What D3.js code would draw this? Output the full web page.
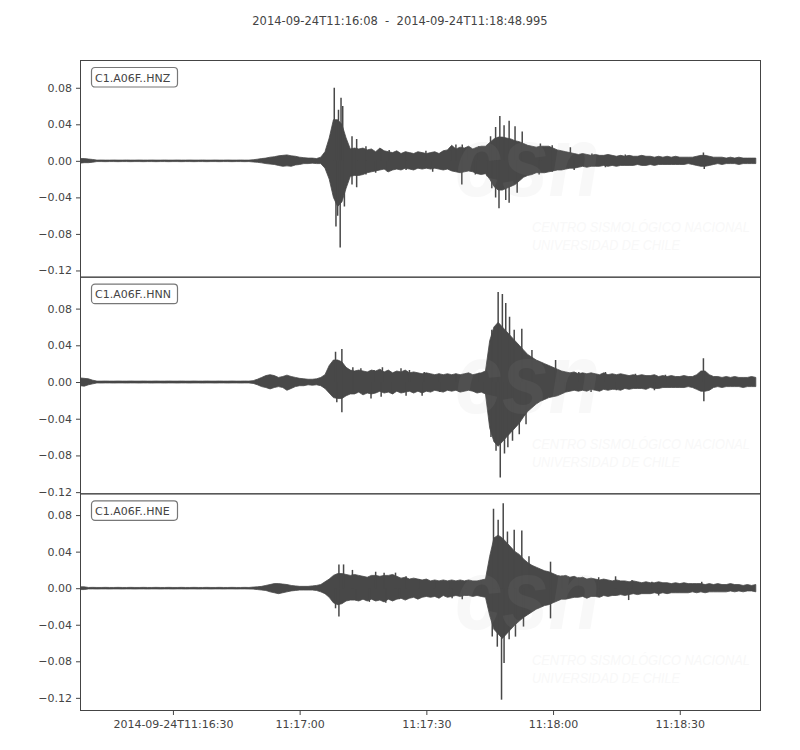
<!DOCTYPE html>
<html>
<head>
<meta charset="utf-8">
<script src="https://cdn.jsdelivr.net/npm/d3@7"></script>
<style>
  body { margin: 0; background: #fff; }
  svg { display: block; font-family: "DejaVu Sans", sans-serif; }
</style>
</head>
<body>
<svg width="800" height="750"></svg>
<script>
// trace start; envelope samples are 1 s apart from it
const startTime = "2014-09-24T11:16:08.000Z";
const endTime = "2014-09-24T11:18:48.995Z";
const titleText = "2014-09-24T11:16:08  -  2014-09-24T11:18:48.995";
const channels = ["C1.A06F..HNZ", "C1.A06F..HNN", "C1.A06F..HNE"];

// per-panel y limits (equal scale, shifted centres)
const yLimits = [[-0.1268, 0.1104], [-0.1213, 0.1148], [-0.1333, 0.1038]];
const yTicks = [0.08, 0.04, 0.00, -0.04, -0.08, -0.12];
const xTickTimes = ["2014-09-24T11:16:30Z", "2014-09-24T11:17:00Z", "2014-09-24T11:17:30Z", "2014-09-24T11:18:00Z", "2014-09-24T11:18:30Z"];
const xTickLabels = ["2014-09-24T11:16:30", "11:17:00", "11:17:30", "11:18:00", "11:18:30"];

// body of the trace: max / min per second
const hnzHi = [.0025,.0025,.002,.0015,
  .0008,.0009,.0008,.0008,.0009,.0008,.0008,.0009,.0008,.0008,
  .0009,.0008,.0008,.0009,.0008,.0008,.0009,.0008,.0008,.0009,
  .0008,.0008,.0009,.0008,.0008,.0009,.0008,.0008,.0009,.0008,
  .0008,.0009,.0008,.0008,.0009,.0008,.0008,
  .0012,.0018,.0025,.003,.004,.0045,.0055,.006,.0065,.0055,.005,.004,.0035,.003,.003,.0025,.004,
  .010,.025,.045,.045,.040,.025,.013,.014,.013,.014,.012,.013,
  .010,.014,.011,.010,.009,.011,.008,.010,.009,.008,.010,.009,.008,.009,.010,.008,.011,.012,.017,.013,
  .015,.014,.016,.013,.015,.016,.016,.020,.024,.026,.026,.025,.024,.022,.021,.019,.017,.016,.015,.016,
  .016,.016,.014,.012,.011,.010,.009,.008,.007,.008,.007,.006,.007,.006,.006,.007,.006,.005,.006,.005,
  .006,.005,.005,.006,.005,.005,.004,.005,.004,.005,.004,.005,.004,.004,.004,.004,.005,.006,.006,.005,
  .004,.004,.004,.003,.004,.003,.004,.003,.003,.003,.003];
const hnzLo = [-.0025,-.002,-.002,-.0015,
  -.0008,-.0008,-.0009,-.0008,-.0008,-.0009,-.0008,-.0008,-.0009,-.0008,
  -.0008,-.0009,-.0008,-.0008,-.0009,-.0008,-.0008,-.0009,-.0008,-.0008,
  -.0009,-.0008,-.0008,-.0009,-.0008,-.0008,-.0009,-.0008,-.0008,-.0009,
  -.0008,-.0008,-.0009,-.0008,-.0008,-.0009,-.0008,
  -.0012,-.0016,-.0022,-.003,-.0035,-.004,-.005,-.006,-.0055,-.006,-.0045,-.004,-.003,-.003,-.0025,-.003,-.003,
  -.008,-.020,-.040,-.050,-.045,-.030,-.017,-.016,-.016,-.015,-.013,-.012,
  -.011,-.010,-.009,-.012,-.010,-.009,-.010,-.008,-.009,-.010,-.008,-.009,-.008,-.009,-.008,-.009,-.010,-.009,-.011,-.012,
  -.013,-.012,-.011,-.012,-.014,-.015,-.014,-.020,-.028,-.032,-.032,-.030,-.028,-.026,-.022,-.018,-.016,-.015,-.013,-.013,
  -.013,-.012,-.011,-.010,-.010,-.009,-.008,-.008,-.007,-.006,-.007,-.006,-.006,-.006,-.005,-.006,-.005,-.006,-.005,-.005,
  -.005,-.005,-.004,-.005,-.005,-.004,-.005,-.004,-.004,-.004,-.004,-.004,-.004,-.004,-.003,-.004,-.005,-.006,-.006,-.005,
  -.004,-.003,-.004,-.003,-.003,-.003,-.004,-.003,-.003,-.003,-.003];
// single peaks standing out of the body: [seconds after start, value]
const hnzSpikes = [[60.2,.080],[60.6,-.072],[61.0,-.060],[61.2,.056],[61.6,-.095],[61.8,.069],[62.2,.060],[62.6,-.050],
  [64.4,.027],[64.4,-.026],[65.5,.024],[65.5,-.029],[67.7,.016],[67.7,-.015],[70,-.013],[71.3,.013],[72.8,-.012],
  [73.2,.012],[77.2,.010],[77.2,-.010],[81.9,.011],[83.5,-.012],[87.8,.011],[89,.018],[90.5,.018],[90.4,-.026],
  [92,.015],[93.6,-.015],[94.4,.016],[96.4,-.017],
  [97.2,.027],[97.5,-.030],[98.4,.037],[98.4,-.040],[99.4,.049],[99.2,-.052],[100.4,.039],[100.8,-.043],
  [101.6,.044],[101.6,-.046],[103.0,.038],[103.5,-.035],[104.7,.032],[108.7,-.015],[109,.019],[111.8,.017],
  [111.8,-.012],[116.1,.015],[117,-.010],[121.2,.008],[124.4,-.007],[129.1,.007],[147.6,.009],[147.8,-.009]];

const hnnHi = [.0045,.004,.0035,.002,
  .001,.001,.0011,.001,.001,.0011,.001,.001,.0011,.001,
  .001,.0011,.001,.001,.0011,.001,.001,.0011,.001,.001,
  .0011,.001,.001,.0011,.001,.001,.0011,.001,.001,.0011,
  .001,.001,.0011,.001,.001,.0011,.001,
  .0015,.003,.005,.007,.008,.007,.005,.006,.0075,.006,.005,.004,.0035,.003,.003,.0035,.005,
  .008,.018,.024,.024,.022,.016,.013,.012,.013,.012,.011,.013,
  .012,.014,.011,.013,.010,.012,.011,.013,.010,.011,.010,.009,.010,.009,.008,.009,.008,.009,.008,.009,
  .008,.009,.010,.008,.009,.010,.012,.045,.060,.065,.060,.055,.050,.045,.040,.035,.030,.027,.024,.022,
  .020,.018,.016,.014,.012,.011,.010,.011,.009,.010,.009,.010,.009,.008,.010,.008,.009,.008,.009,.008,
  .007,.008,.007,.008,.007,.007,.008,.006,.007,.006,.007,.006,.006,.007,.006,.006,.008,.012,.012,.008,
  .006,.006,.005,.006,.005,.006,.005,.005,.005,.006,.005];
const hnnLo = [-.004,-.0045,-.003,-.002,
  -.001,-.0011,-.001,-.001,-.0011,-.001,-.001,-.0011,-.001,-.001,
  -.0011,-.001,-.001,-.0011,-.001,-.001,-.0011,-.001,-.001,-.0011,
  -.001,-.001,-.0011,-.001,-.001,-.0011,-.001,-.001,-.0011,-.001,
  -.001,-.0011,-.001,-.001,-.0011,-.001,-.001,
  -.0015,-.003,-.005,-.006,-.0075,-.006,-.005,-.006,-.009,-.007,-.005,-.004,-.004,-.003,-.0035,-.003,-.004,
  -.007,-.012,-.017,-.018,-.018,-.015,-.013,-.013,-.011,-.014,-.012,-.013,
  -.012,-.010,-.012,-.011,-.013,-.010,-.012,-.011,-.010,-.012,-.010,-.012,-.010,-.011,-.009,-.010,-.011,-.009,-.010,-.009,
  -.011,-.010,-.009,-.010,-.012,-.011,-.013,-.050,-.065,-.070,-.065,-.060,-.055,-.050,-.045,-.038,-.032,-.028,-.024,-.021,
  -.019,-.017,-.016,-.015,-.013,-.011,-.010,-.009,-.010,-.009,-.010,-.008,-.009,-.010,-.008,-.009,-.008,-.008,-.009,-.007,
  -.008,-.007,-.007,-.007,-.008,-.006,-.007,-.007,-.006,-.006,-.006,-.006,-.006,-.006,-.005,-.006,-.008,-.010,-.010,-.009,
  -.006,-.005,-.006,-.005,-.005,-.005,-.005,-.006,-.005,-.005,-.005];
const hnnSpikes = [[60.5,.033],[60.8,-.022],[62.0,.036],[62.0,-.033],[64.6,.016],[64.6,-.011],[66.5,.015],
  [68.9,-.018],[69.6,.013],[71.6,.016],[71.3,-.016],[74,-.013],[76,.015],[77.2,-.015],[78,.013],[81,-.015],
  [81.5,.011],[85,.009],[85.2,-.011],[89,.009],[89.8,-.011],[94.5,.010],[95.7,-.011],
  [97.3,-.060],[97.5,.057],[98.5,-.075],[99.0,.098],[99.5,-.104],[100.0,.096],[100.5,-.078],[100.8,.086],
  [101.3,-.071],[101.7,.071],[102.4,-.064],[102.8,.057],[104.0,-.057],[104.6,.058],[105.6,-.046],
  [107.0,.035],[112.6,.024],[113.4,.013],[115,-.011],[118.1,.011],[121,-.011],[124.4,.011],[127,-.009],
  [131.5,.009],[136,-.009],[138.6,.008],[147.6,.026],[147.7,-.021]];

const hneHi = [.0015,.0015,
  .0008,.0009,.0008,.0008,.0009,.0008,.0008,.0009,.0008,.0008,
  .0009,.0008,.0008,.0009,.0008,.0008,.0009,.0008,.0008,.0009,
  .0008,.0008,.0009,.0008,.0008,.0009,.0008,.0008,.0009,.0008,
  .0008,.0009,.0008,.0008,.0009,.0008,.0008,.0009,.0008,
  .0012,.0015,.002,.003,.004,.005,.005,.0045,.004,.003,.0025,.002,.002,.002,.0025,.003,.004,
  .007,.010,.014,.016,.016,.015,.014,.015,.014,.013,.012,.014,
  .014,.013,.014,.014,.015,.013,.011,.012,.010,.011,.010,.009,.010,.008,.009,.008,.009,.008,.009,.008,
  .009,.008,.009,.008,.008,.009,.010,.035,.055,.058,.055,.050,.045,.040,.037,.032,.028,.025,.023,.021,
  .019,.018,.016,.014,.013,.014,.012,.013,.011,.012,.010,.011,.010,.009,.010,.009,.008,.009,.008,.008,
  .007,.008,.007,.006,.007,.006,.006,.007,.006,.006,.005,.006,.005,.006,.005,.005,.005,.005,.004,.005,
  .004,.005,.004,.004,.005,.004,.004,.003,.004,.003,.004];
const hneLo = [-.0015,-.0015,
  -.0008,-.0008,-.0009,-.0008,-.0008,-.0009,-.0008,-.0008,-.0009,-.0008,
  -.0008,-.0009,-.0008,-.0008,-.0009,-.0008,-.0008,-.0009,-.0008,-.0008,
  -.0009,-.0008,-.0008,-.0009,-.0008,-.0008,-.0009,-.0008,-.0008,-.0009,
  -.0008,-.0008,-.0009,-.0008,-.0008,-.0009,-.0008,-.0008,-.0009,
  -.001,-.0015,-.002,-.0025,-.004,-.005,-.006,-.005,-.004,-.003,-.0025,-.002,-.002,-.002,-.002,-.0025,-.004,
  -.006,-.010,-.016,-.018,-.017,-.014,-.013,-.013,-.014,-.012,-.014,-.012,
  -.014,-.013,-.015,-.012,-.014,-.012,-.011,-.013,-.011,-.010,-.012,-.010,-.009,-.010,-.009,-.011,-.008,-.010,-.009,-.008,
  -.009,-.008,-.008,-.009,-.008,-.009,-.010,-.030,-.045,-.050,-.055,-.050,-.045,-.040,-.036,-.032,-.029,-.026,-.023,-.021,
  -.019,-.018,-.016,-.014,-.012,-.012,-.011,-.010,-.010,-.009,-.011,-.009,-.009,-.010,-.008,-.009,-.008,-.008,-.007,-.008,
  -.007,-.006,-.007,-.006,-.006,-.006,-.005,-.006,-.005,-.006,-.005,-.005,-.005,-.005,-.005,-.004,-.005,-.004,-.005,-.004,
  -.004,-.004,-.004,-.004,-.003,-.004,-.003,-.004,-.003,-.003,-.004];
const hneSpikes = [[60.5,-.022],[61.3,.026],[61.3,-.031],[62.4,.026],[64.5,.020],[65.4,-.013],[68.5,-.015],[70,.018],
  [72,.017],[72.4,-.016],[74.7,.017],[75.6,-.012],[77.2,.013],[80.3,.010],[83.9,.008],[87.4,.008],[88.1,-.011],
  [90.5,-.012],[91.3,.008],[94.9,.009],
  [97.6,-.053],[97.9,.087],[98.8,-.064],[99.0,.075],[99.8,-.122],[100.2,.093],[100.4,-.082],[101.2,.062],
  [101.6,-.056],[102.8,.064],[103.1,-.053],[104.6,.063],[105.0,-.042],[106.3,.035],[111.4,.029],[111.4,-.033],
  [114.1,.014],[115.7,-.009],[118.1,.012],[122.8,.012],[122.8,-.009],[126.8,.013],[129.9,-.013],[130.7,.009],
  [135.4,.007],[137,-.008],[147.2,.007]];

const traces = [[hnzHi, hnzLo, hnzSpikes], [hnnHi, hnnLo, hnnSpikes], [hneHi, hneLo, hneSpikes]];

const svg = d3.select("svg");
const plotLeft = 80, plotRight = 760, plotTop = 60, plotBottom = 710;
const panelH = (plotBottom - plotTop) / 3;
const ink = "#444444";
const waveColor = "#484848";

const t0 = new Date(startTime);
let xScale = d3.scaleUtc()
    .domain([t0, new Date(endTime)])
    .range([plotLeft, plotRight]);

const secToDate = s => new Date(t0.getTime() + s * 1000);

svg.append("text")
    .attr("x", 400)
    .attr("y", 25)
    .attr("text-anchor", "middle")
    .attr("font-size", "11.5px")
    .attr("fill", ink)
    .style("white-space", "pre")
    .text(titleText);

channels.forEach((name, i) => {
    const y0 = plotTop + i * panelH;
    const y1 = y0 + panelH;
    let yScale = d3.scaleLinear()
        .domain(yLimits[i])
        .range([y1, y0]);

    const g = svg.append("g");

    g.append("clipPath")
        .attr("id", "clip" + i)
      .append("rect")
        .attr("x", plotLeft).attr("y", y0)
        .attr("width", plotRight - plotLeft).attr("height", panelH);

    const [hi, lo, spikes] = traces[i];
    const rows = hi.map((v, k) => ({ t: secToDate(k), hi: v, lo: lo[k] }));

    const area = d3.area()
        .x(d => xScale(d.t))
        .y0(d => yScale(d.lo))
        .y1(d => yScale(d.hi));

    const wave = g.append("g").attr("clip-path", `url(#clip${i})`);

    wave.append("path")
        .datum(rows)
        .attr("d", area)
        .attr("fill", waveColor)
        .attr("stroke", waveColor)
        .attr("stroke-width", 0.8)
        .attr("stroke-linejoin", "round");

    wave.selectAll("line.spike")
        .data(spikes)
        .enter()
        .append("line")
        .attr("class", "spike")
        .attr("x1", d => xScale(secToDate(d[0])))
        .attr("x2", d => xScale(secToDate(d[0])))
        .attr("y1", yScale(0))
        .attr("y2", d => yScale(d[1]))
        .attr("stroke", waveColor)
        .attr("stroke-width", 1.5);

    // faint CSN watermark
    const wm = g.append("g")
        .attr("clip-path", `url(#clip${i})`)
        .attr("fill", "#aaaaaa")
        .attr("opacity", 0.08)
        .attr("font-style", "italic")
        .attr("font-family", "Liberation Sans, sans-serif");
    wm.append("text")
        .attr("x", 455).attr("y", y0 + 136)
        .attr("font-size", "100px")
        .attr("font-weight", "bold")
        .attr("textLength", 145)
        .attr("lengthAdjust", "spacingAndGlyphs")
        .text("csn");
    wm.append("text")
        .attr("x", 532).attr("y", y0 + 172)
        .attr("font-size", "14px")
        .attr("textLength", 218)
        .attr("lengthAdjust", "spacingAndGlyphs")
        .text("CENTRO SISMOLÓGICO NACIONAL");
    wm.append("text")
        .attr("x", 532).attr("y", y0 + 190)
        .attr("font-size", "14px")
        .attr("textLength", 148)
        .attr("lengthAdjust", "spacingAndGlyphs")
        .text("UNIVERSIDAD DE CHILE");

    // frame
    g.append("rect")
        .attr("x", plotLeft + 0.5).attr("y", y0 + 0.5)
        .attr("width", plotRight - plotLeft).attr("height", panelH)
        .attr("fill", "none")
        .attr("stroke", ink)
        .attr("stroke-width", 1);

    const yAxis = g.append("g")
        .attr("transform", `translate(${plotLeft + 0.5},0)`)
        .call(d3.axisLeft(yScale).tickValues(yTicks).tickFormat(d3.format(".2f")).tickSize(4.5).tickPadding(4));
    yAxis.select(".domain").remove();
    yAxis.selectAll("line").attr("stroke", ink);
    yAxis.selectAll("text")
        .attr("fill", ink)
        .attr("font-size", "11px")
        .attr("font-family", "DejaVu Sans, sans-serif");

    // station label box
    const lab = g.append("g").attr("transform", `translate(${plotLeft + 11},${y0 + 7})`);
    lab.append("rect")
        .attr("x", 0.5).attr("y", 0.5)
        .attr("width", 86).attr("height", 19.5)
        .attr("rx", 3.5)
        .attr("fill", "white")
        .attr("stroke", "#777777")
        .attr("stroke-width", 1.2);
    lab.append("text")
        .attr("x", 4).attr("y", 14.5)
        .attr("font-size", "11px")
        .attr("fill", ink)
        .text(name);

    if (i === channels.length - 1) {
        const xAxis = g.append("g")
            .attr("transform", `translate(0,${y1 + 0.5})`)
            .call(d3.axisBottom(xScale)
                .tickValues(xTickTimes.map(s => new Date(s)))
                .tickFormat((d, k) => xTickLabels[k])
                .tickSize(4.5).tickPadding(5));
        xAxis.select(".domain").remove();
        xAxis.selectAll("line").attr("stroke", ink);
        xAxis.selectAll("text")
            .attr("fill", ink)
            .attr("font-size", "11px")
            .attr("font-family", "DejaVu Sans, sans-serif");
    }
});
</script>
</body>
</html>
